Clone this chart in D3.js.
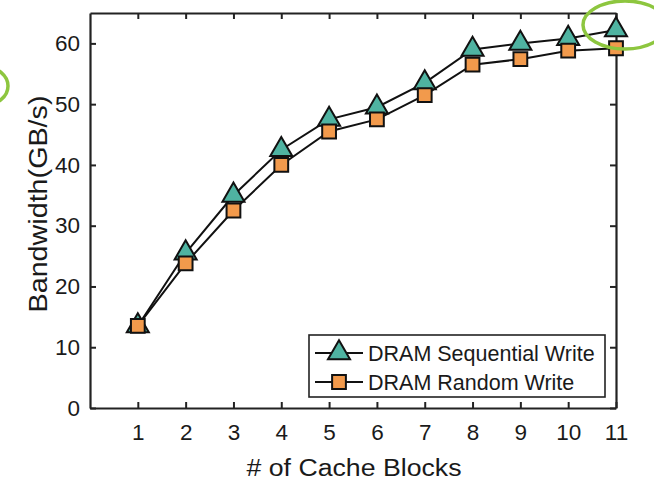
<!DOCTYPE html>
<html>
<head>
<meta charset="utf-8">
<script src="https://cdnjs.cloudflare.com/ajax/libs/d3/7.8.5/d3.min.js"></script>
<style>
  html, body { margin: 0; padding: 0; background: #fff; }
  svg { display: block; font-family: Arial, "Liberation Sans", sans-serif; }
</style>
</head>
<body>
<svg id="chart" width="654" height="480"></svg>
<script>
  // values
  var cacheBlocks = [1, 2, 3, 4, 5, 6, 7, 8, 9, 10, 11];
  var seqWrite = [13.5, 25.5, 35, 42.5, 47.5, 49.5, 53.5, 59, 60, 60.8, 62.2];
  var randWrite = [13.5, 23.8, 32.5, 40, 45.5, 47.5, 51.5, 56.5, 57.4, 58.8, 59.2];
  var yTicks = [0, 10, 20, 30, 40, 50, 60];
  var seriesNames = ["DRAM Sequential Write", "DRAM Random Write"];

  var margin = {left: 90, right: 38, top: 13, bottom: 72};
  var W = 654, H = 480;

  var svg = d3.select("#chart");

  var x = d3.scaleLinear().domain([0, 11]).range([margin.left, W - margin.right]);
  var y = d3.scaleLinear().domain([0, 65]).range([H - margin.bottom, margin.top]);

  var tickLen = 6;

  // axes, ticks pointing inward, box style
  svg.append("g")
    .attr("transform", "translate(0," + y(0) + ")")
    .call(d3.axisBottom(x).tickValues(cacheBlocks).tickSizeInner(-tickLen).tickSizeOuter(0).tickPadding(16))
    .call(styleAxis);
  svg.append("g")
    .attr("transform", "translate(0," + y(65) + ")")
    .call(d3.axisTop(x).tickValues(cacheBlocks).tickSizeInner(-tickLen).tickSizeOuter(0).tickFormat(""))
    .call(styleAxis);
  svg.append("g")
    .attr("transform", "translate(" + x(0) + ",0)")
    .call(d3.axisLeft(y).tickValues(yTicks).tickSizeInner(-tickLen).tickSizeOuter(0).tickPadding(10))
    .call(styleAxis);
  svg.append("g")
    .attr("transform", "translate(" + x(11) + ",0)")
    .call(d3.axisRight(y).tickValues(yTicks).tickSizeInner(-tickLen).tickSizeOuter(0).tickFormat(""))
    .call(styleAxis);

  function styleAxis(g) {
    g.select(".domain").attr("stroke", "#222").attr("stroke-width", 2.2);
    g.selectAll(".tick line").attr("stroke", "#222").attr("stroke-width", 2);
    g.selectAll(".tick text")
      .attr("fill", "#1a1a1a")
      .attr("font-size", "22.5px")
      .attr("font-family", "Arial, 'Liberation Sans', sans-serif");
  }

  // axis titles
  svg.append("text")
    .attr("x", (x(0) + x(11)) / 2 + 1)
    .attr("y", 476)
    .attr("text-anchor", "middle")
    .attr("font-size", "23px")
    .attr("fill", "#1a1a1a")
    .attr("textLength", 215)
    .attr("lengthAdjust", "spacingAndGlyphs")
    .text("# of Cache Blocks");

  svg.append("text")
    .attr("transform", "translate(47,204) rotate(-90)")
    .attr("text-anchor", "middle")
    .attr("font-size", "25px")
    .attr("fill", "#1a1a1a")
    .attr("textLength", 217)
    .attr("lengthAdjust", "spacingAndGlyphs")
    .text("Bandwidth(GB/s)");

  var line = d3.line()
    .x(function (d, i) { return x(cacheBlocks[i]); })
    .y(function (d) { return y(d); });

  var triangle = d3.symbol().type(d3.symbolTriangle).size(210);
  var square = d3.symbol().type(d3.symbolSquare).size(190);

  var series = [
    {name: seriesNames[0], values: seqWrite, fill: "#4fb3a1", symbol: triangle},
    {name: seriesNames[1], values: randWrite, fill: "#f29a4c", symbol: square}
  ];

  series.forEach(function (s) {
    svg.append("path")
      .datum(s.values)
      .attr("fill", "none")
      .attr("stroke", "#111")
      .attr("stroke-width", 2)
      .attr("d", line);
  });

  series.forEach(function (s) {
    svg.append("g").selectAll("path")
      .data(s.values)
      .enter().append("path")
      .attr("transform", function (d, i) { return "translate(" + x(cacheBlocks[i]) + "," + y(d) + ")"; })
      .attr("d", s.symbol)
      .attr("fill", s.fill)
      .attr("stroke", "#111")
      .attr("stroke-width", 2);
  });

  // legend
  var legend = svg.append("g");
  legend.append("rect")
    .attr("x", 309)
    .attr("y", 335)
    .attr("width", 296)
    .attr("height", 62)
    .attr("fill", "#fff")
    .attr("stroke", "#222")
    .attr("stroke-width", 1.6);

  series.forEach(function (s, i) {
    var ly = 353 + i * 29;
    legend.append("line")
      .attr("x1", 315).attr("x2", 363)
      .attr("y1", ly).attr("y2", ly)
      .attr("stroke", "#111")
      .attr("stroke-width", 2);
    legend.append("path")
      .attr("transform", "translate(339," + ly + ")")
      .attr("d", s.symbol)
      .attr("fill", s.fill)
      .attr("stroke", "#111")
      .attr("stroke-width", 2);
    legend.append("text")
      .attr("x", 368)
      .attr("y", ly + 7.5)
      .attr("font-size", "21.5px")
      .attr("fill", "#1a1a1a")
      .text(s.name);
  });

  // green highlight rings from the source slide
  svg.append("ellipse")
    .attr("cx", 625).attr("cy", 25)
    .attr("rx", 42).attr("ry", 24)
    .attr("fill", "none")
    .attr("stroke", "#8dc63f")
    .attr("stroke-width", 3.5);
  svg.append("ellipse")
    .attr("cx", -15).attr("cy", 86)
    .attr("rx", 23).attr("ry", 19)
    .attr("fill", "none")
    .attr("stroke", "#8dc63f")
    .attr("stroke-width", 3.5);
</script>
</body>
</html>
